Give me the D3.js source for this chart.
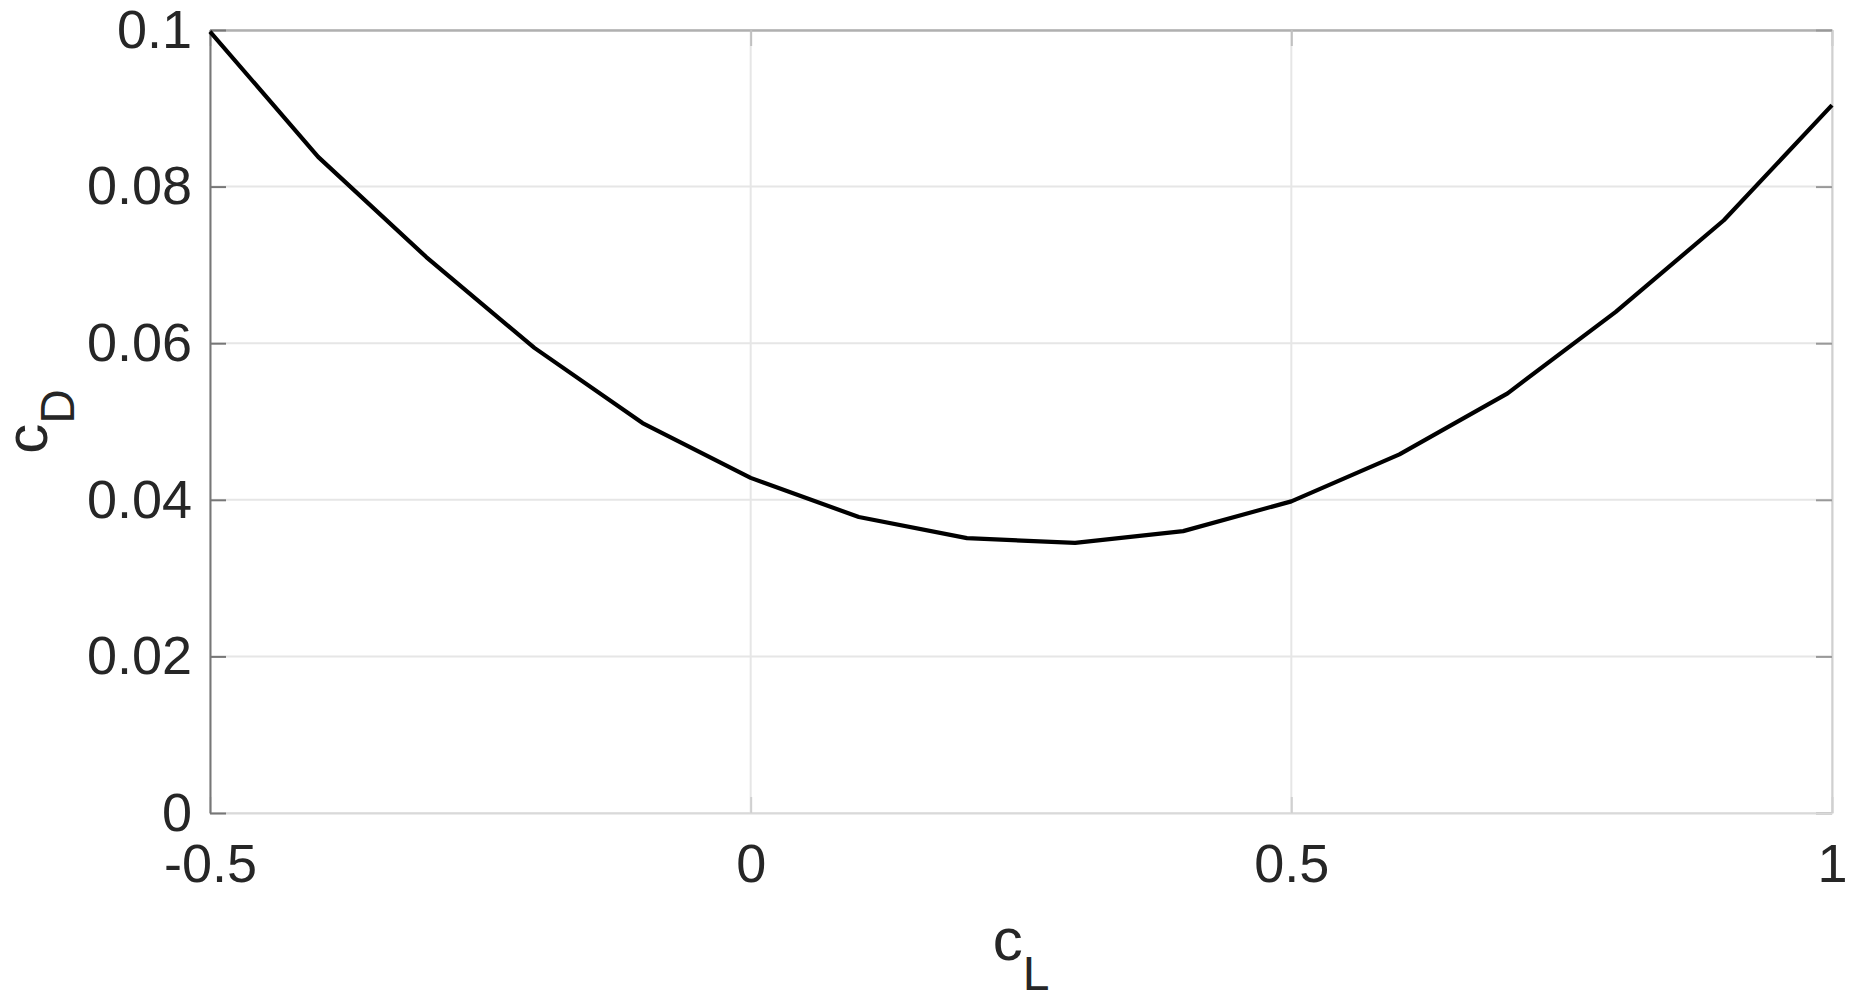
<!DOCTYPE html>
<html>
<head>
<meta charset="utf-8">
<script src="https://cdn.jsdelivr.net/npm/d3@7"></script>
<style>
  body { margin: 0; background: #fff; }
  svg text { font-family: "Liberation Sans", Arial, sans-serif; fill: #262626; }
</style>
</head>
<body>
<div id="chart"></div>
<script>
// lift coefficient vs drag coefficient
const cl = [-0.5, -0.4, -0.3, -0.2, -0.1, 0, 0.1, 0.2, 0.3, 0.4, 0.5, 0.6, 0.7, 0.8, 0.9, 1.0];
const cd = [0.0998, 0.0838, 0.0710, 0.0594, 0.0498, 0.0428, 0.0378, 0.0351, 0.0345, 0.0360,
            0.0398, 0.0458, 0.0536, 0.0640, 0.0757, 0.0904];

const xTicks = [-0.5, 0, 0.5, 1];
const xTickLabels = ['-0.5', '0', '0.5', '1'];
const yTicks = [0, 0.02, 0.04, 0.06, 0.08, 0.1];
const yTickLabels = ['0', '0.02', '0.04', '0.06', '0.08', '0.1'];

const config = {
  div: '#chart',
  width: 1622, height: 783,
  left: 210, top: 30, right: 27, bottom: 191
};

const svg = d3.select(config.div)
  .append('svg')
  .attr('width', config.width + config.left + config.right)
  .attr('height', config.height + config.top + config.bottom);

const g = svg.append('g')
  .attr('transform', `translate(${config.left},${config.top})`);

const xScale = d3.scaleLinear().domain([-0.5, 1]).range([0, config.width]);
const yScale = d3.scaleLinear().domain([0, 0.1]).range([config.height, 0]);

// grid
g.append('g')
  .selectAll('line')
  .data(xTicks)
  .join('line')
  .attr('x1', d => xScale(d)).attr('x2', d => xScale(d))
  .attr('y1', 0).attr('y2', config.height)
  .attr('stroke', '#e6e6e6')
  .attr('stroke-width', 2);

g.append('g')
  .selectAll('line')
  .data(yTicks)
  .join('line')
  .attr('y1', d => yScale(d)).attr('y2', d => yScale(d))
  .attr('x1', 0).attr('x2', config.width)
  .attr('stroke', '#e6e6e6')
  .attr('stroke-width', 2);

// box axes (top / right without labels)
const topAxis = d3.axisTop(xScale).tickValues(xTicks).tickSizeInner(-16).tickSizeOuter(0).tickFormat('');
const rightAxis = d3.axisRight(yScale).tickValues(yTicks).tickSizeInner(-16).tickSizeOuter(0).tickFormat('');

g.append('g').attr('class', 'top').call(topAxis);
g.append('g').attr('class', 'right')
  .attr('transform', `translate(${config.width},0)`)
  .call(rightAxis);

const xAxis = d3.axisBottom(xScale)
  .tickValues(xTicks)
  .tickFormat((d, i) => xTickLabels[i])
  .tickSizeInner(-16).tickSizeOuter(0)
  .tickPadding(31);

const yAxis = d3.axisLeft(yScale)
  .tickValues(yTicks)
  .tickFormat((d, i) => yTickLabels[i])
  .tickSizeInner(-16).tickSizeOuter(0)
  .tickPadding(18);

const xg = g.append('g')
  .attr('transform', `translate(0,${config.height})`)
  .call(xAxis);

const yg = g.append('g').call(yAxis);

[xg, yg].forEach(a => {
  a.selectAll('text').attr('font-size', 54).attr('font-family', null).attr('fill', '#262626');
});

xg.select('.domain').attr('stroke', '#d9d9d9').attr('stroke-width', 2);
xg.selectAll('.tick line').attr('stroke', '#d0d0d0').attr('stroke-width', 2);
yg.select('.domain').attr('stroke', '#777').attr('stroke-width', 2);
yg.selectAll('.tick line').attr('stroke', '#777').attr('stroke-width', 2);
g.select('.top .domain').attr('stroke', '#b0b0b0').attr('stroke-width', 2.5);
g.selectAll('.top .tick line').attr('stroke', '#c0c0c0').attr('stroke-width', 2);
g.select('.right .domain').attr('stroke', '#d0d0d0').attr('stroke-width', 2);
g.selectAll('.right .tick line').attr('stroke', '#999').attr('stroke-width', 2);

// curve
const line = d3.line()
  .x(d => xScale(d[0]))
  .y(d => yScale(d[1]));

g.append('path')
  .datum(d3.zip(cl, cd))
  .attr('d', line)
  .attr('fill', 'none')
  .attr('stroke', '#000')
  .attr('stroke-width', 4.2)
  .attr('stroke-linejoin', 'round');

// axis labels
const xl = svg.append('text')
  .attr('x', config.left + config.width / 2)
  .attr('y', 960)
  .attr('text-anchor', 'middle')
  .attr('font-size', 60);
xl.append('tspan').text('c');
xl.append('tspan').attr('dy', 30).attr('font-size', 48).text('L');

const yl = svg.append('text')
  .attr('transform', `translate(47,${config.top + config.height / 2}) rotate(-90)`)
  .attr('text-anchor', 'middle')
  .attr('font-size', 60);
yl.append('tspan').text('c');
yl.append('tspan').attr('dy', 27).attr('font-size', 48).text('D');
</script>
</body>
</html>
